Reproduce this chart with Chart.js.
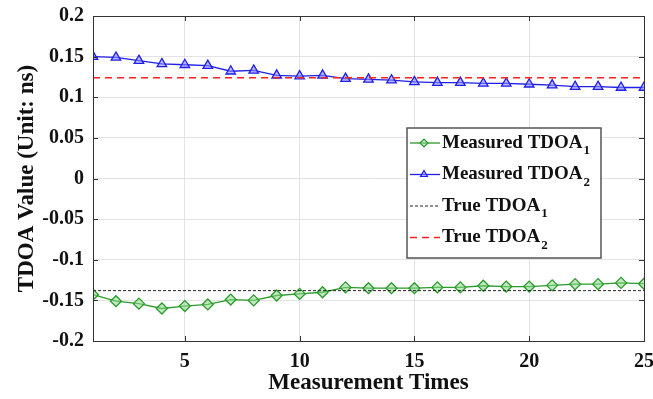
<!DOCTYPE html>
<html>
<head>
<meta charset="UTF-8">
<script src="https://cdn.jsdelivr.net/npm/chart.js"></script>
<style>
  html, body { margin:0; padding:0; background:#fff; }
  #wrap { width:653px; height:399px; }
</style>
</head>
<body>
<div id="wrap"><canvas id="cvs" width="653" height="399"></canvas></div>
<script>
// data
const times = [1,2,3,4,5,6,7,8,9,10,11,12,13,14,15,16,17,18,19,20,21,22,23,24,25];
const measured1 = [-0.143,-0.151,-0.154,-0.160,-0.157,-0.155,-0.149,-0.150,-0.144,-0.142,-0.140,-0.134,
                   -0.135,-0.135,-0.135,-0.134,-0.134,-0.132,-0.133,-0.133,-0.1315,-0.130,-0.130,-0.1285,-0.1295];
const measured2 = [0.150,0.149,0.145,0.141,0.140,0.139,0.132,0.133,0.127,0.126,0.127,0.123,
                   0.122,0.121,0.119,0.118,0.118,0.117,0.117,0.116,0.115,0.113,0.113,0.112,0.112];
const trueTdoa1 = -0.138;
const trueTdoa2 = 0.124;
const xTicks = [5,10,15,20,25];
const yTicks = [-0.2,-0.15,-0.1,-0.05,0,0.05,0.1,0.15,0.2];
const yTickLabels = ['-0.2','-0.15','-0.1','-0.05','0','0.05','0.1','0.15','0.2'];
const legendNames = ['Measured TDOA','Measured TDOA','True TDOA','True TDOA'];
const legendSubs = ['1','2','1','2'];

const serif = "'Liberation Serif','Times New Roman',serif";
const green = '#2b9a2b', blue = '#1f1fe8';

const pts = arr => arr.map((v,i) => ({x: times[i], y: v}));
const flat = v => [{x: times[0], y: v}, {x: times[times.length-1], y: v}];

// frame, inward ticks and in-plot legend
const boxPlugin = {
  id: 'box',
  afterDatasetsDraw(chart) {
    const {ctx, chartArea: a, scales} = chart;
    ctx.save();
    ctx.strokeStyle = '#333';
    ctx.lineWidth = 1;
    ctx.beginPath();
    xTicks.forEach(t => {
      const px = Math.round(scales.x.getPixelForValue(t)) + 0.5;
      ctx.moveTo(px, a.bottom); ctx.lineTo(px, a.bottom - 5);
      ctx.moveTo(px, a.top); ctx.lineTo(px, a.top + 5);
    });
    yTicks.forEach(t => {
      const py = Math.round(scales.y.getPixelForValue(t)) + 0.5;
      ctx.moveTo(a.left, py); ctx.lineTo(a.left + 5, py);
      ctx.moveTo(a.right, py); ctx.lineTo(a.right - 5, py);
    });
    ctx.stroke();
    ctx.strokeRect(Math.round(a.left) + 0.5, Math.round(a.top) + 0.5,
                   Math.round(a.right - a.left), Math.round(a.bottom - a.top));
    ctx.restore();
  },
  afterDraw(chart) {
    const {ctx} = chart;
    const bx = 407, by = 128, bw = 194, bh = 130;
    ctx.save();
    ctx.fillStyle = '#fff';
    ctx.fillRect(bx, by, bw, bh);
    ctx.strokeStyle = '#555';
    ctx.lineWidth = 1.5;
    ctx.strokeRect(bx, by, bw, bh);
    const ds = chart.data.datasets;
    for (let i = 0; i < 4; i++) {
      const d = ds[i];
      const y = by + 15 + i * 31.5;
      ctx.strokeStyle = d.borderColor;
      ctx.lineWidth = d.borderWidth;
      ctx.setLineDash(d.borderDash || []);
      ctx.beginPath();
      ctx.moveTo(bx + 3, y); ctx.lineTo(bx + 33, y);
      ctx.stroke();
      ctx.setLineDash([]);
      if (d.pointStyle && d.pointRadius > 0) {
        ctx.fillStyle = d.pointBackgroundColor;
        ctx.strokeStyle = d.pointBorderColor;
        ctx.lineWidth = 1.2;
        Chart.helpers.drawPoint(ctx, {pointStyle: d.pointStyle, radius: 4, rotation: 0, borderWidth: 1.2}, bx + 17, y);
      }
      ctx.fillStyle = '#111';
      ctx.font = 'bold 19px ' + serif;
      ctx.textBaseline = 'middle';
      ctx.textAlign = 'left';
      ctx.fillText(legendNames[i], bx + 35, y);
      const w = ctx.measureText(legendNames[i]).width;
      ctx.font = 'bold 13px ' + serif;
      ctx.fillText(legendSubs[i], bx + 35 + w + 1, y + 8);
    }
    ctx.restore();
  }
};

new Chart(document.getElementById('cvs'), {
  type: 'line',
  data: {
    datasets: [
      { label: 'Measured TDOA1', data: pts(measured1), borderColor: green, borderWidth: 1.3,
        pointStyle: 'rectRot', pointRadius: 5.5, pointBorderWidth: 1.3,
        pointBackgroundColor: 'rgba(140,215,140,0.55)', pointBorderColor: green, order: 2 },
      { label: 'Measured TDOA2', data: pts(measured2), borderColor: blue, borderWidth: 1.3,
        pointStyle: 'triangle', pointRadius: 5.5, pointBorderWidth: 1.3,
        pointBackgroundColor: 'rgba(140,140,255,0.6)', pointBorderColor: blue, order: 2 },
      { label: 'True TDOA1', data: flat(trueTdoa1), borderColor: '#222', borderWidth: 1,
        borderDash: [3, 2], pointRadius: 0, order: 1 },
      { label: 'True TDOA2', data: flat(trueTdoa2), borderColor: '#ff2020', borderWidth: 1.4,
        borderDash: [7, 5], pointRadius: 0, order: 1 }
    ]
  },
  options: {
    responsive: false,
    animation: false,
    layout: { padding: { top: 16, right: 9, bottom: 0, left: 0 } },
    plugins: { legend: { display: false }, tooltip: { enabled: false } },
    elements: { line: { tension: 0 } },
    scales: {
      x: {
        type: 'linear', min: 1, max: 25,
        afterBuildTicks: ax => { ax.ticks = xTicks.map(v => ({value: v})); },
        afterFit: ax => { ax.height = 58; ax.paddingLeft = 0; ax.paddingRight = 0; },
        grid: { color: '#e3e3e3', drawTicks: false, tickLength: 0 },
        border: { display: false },
        ticks: { color: '#111', padding: 9, maxRotation: 0, font: { size: 20, weight: 'bold', family: serif } },
        title: { display: true, text: 'Measurement Times', color: '#111',
                 padding: { top: 0, bottom: 2 }, font: { size: 23, weight: 'bold', family: serif } }
      },
      y: {
        min: -0.2, max: 0.2,
        afterBuildTicks: ax => { ax.ticks = yTicks.map(v => ({value: v})); },
        afterFit: ax => { ax.width = 93; ax.paddingTop = 0; ax.paddingBottom = 0; },
        grid: { color: '#e3e3e3', drawTicks: false, tickLength: 0 },
        border: { display: false },
        ticks: { color: '#111', padding: 9, font: { size: 20, weight: 'bold', family: serif },
                 callback: v => yTickLabels[yTicks.findIndex(t => Math.abs(t - v) < 1e-9)] },
        title: { display: true, text: 'TDOA Value (Unit: ns)', color: '#111',
                 padding: { top: 13, bottom: 0 }, font: { size: 23, weight: 'bold', family: serif } }
      }
    }
  },
  plugins: [boxPlugin]
});
</script>
</body>
</html>
